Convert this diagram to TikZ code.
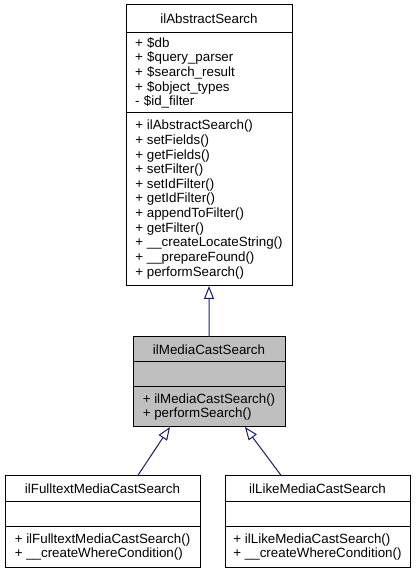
\documentclass[tikz,border=0pt]{standalone}
\usepackage{fontspec}
\setmainfont{Liberation Sans}
\usetikzlibrary{positioning,arrows.meta}
\definecolor{edgeblue}{RGB}{25,25,112}
\definecolor{basegray}{RGB}{191,191,191}

\begin{document}
\begin{tikzpicture}[x=1bp,y=1bp,
  member/.style={draw, outer sep=0pt, inner xsep=0pt, inner ysep=0pt, align=left,
    font=\fontsize{13.4}{14.7}\selectfont, line width=1bp},
  classname/.style={member, align=center},
  inherit/.style={draw=edgeblue, line width=1bp, -{Triangle[open, length=13bp, width=10bp]}}]
\useasboundingbox (0,0) rectangle (415,573);

% ilAbstractSearch
\node [classname, anchor=north west, minimum width=166bp, minimum height=28bp] (abs) at (126,568) {ilAbstractSearch};
\node [member, below=0pt of abs, inner xsep=9bp, text width=148bp, minimum height=80bp] (absattr)
  {+ \$db\\+ \$query\_parser\\+ \$search\_result\\+ \$object\_types\\- \$id\_filter};
\node [member, below=0pt of absattr, minimum width=166bp, minimum height=173bp] (absops)
  {+ ilAbstractSearch()\\+ setFields()\\+ getFields()\\+ setFilter()\\+ setIdFilter()\\+ getIdFilter()\\+ appendToFilter()\\+ getFilter()\\+ \_\_createLocateString()\\+ \_\_prepareFound()\\+ performSearch()};

% ilMediaCastSearch
\node [classname, fill=basegray, anchor=north west, minimum width=152bp, minimum height=25bp] (mcs) at (133,236) {ilMediaCastSearch};
\node [member, fill=basegray, below=0pt of mcs, minimum width=152bp, minimum height=25bp] (mcsattr) {};
\node [member, fill=basegray, below=0pt of mcsattr, minimum width=152bp, minimum height=40bp] (mcsops)
  {+ ilMediaCastSearch()\\+ performSearch()};

% ilFulltextMediaCastSearch
\node [classname, anchor=north west, minimum width=195bp, minimum height=26bp] (ful) at (5,97) {ilFulltextMediaCastSearch};
\node [member, below=0pt of ful, minimum width=195bp, minimum height=25bp] (fulattr) {};
\node [member, below=0pt of fulattr, minimum width=195bp, minimum height=40bp] (fulops)
  {+ ilFulltextMediaCastSearch()\\+ \_\_createWhereCondition()};

% ilLikeMediaCastSearch
\node [classname, anchor=north west, minimum width=185bp, minimum height=26bp] (like) at (225,97) {ilLikeMediaCastSearch};
\node [member, below=0pt of like, minimum width=185bp, minimum height=25bp] (likeattr) {};
\node [member, below=0pt of likeattr, minimum width=185bp, minimum height=40bp] (likeops)
  {+ ilLikeMediaCastSearch()\\+ \_\_createWhereCondition()};

\draw [inherit] (mcs) -- (absops);
\draw [inherit] ([xshift=35bp]ful.north) -- ([xshift=-39bp]mcsops.south);
\draw [inherit] ([xshift=-36bp]like.north) -- ([xshift=36bp]mcsops.south);
\end{tikzpicture}
\end{document}
